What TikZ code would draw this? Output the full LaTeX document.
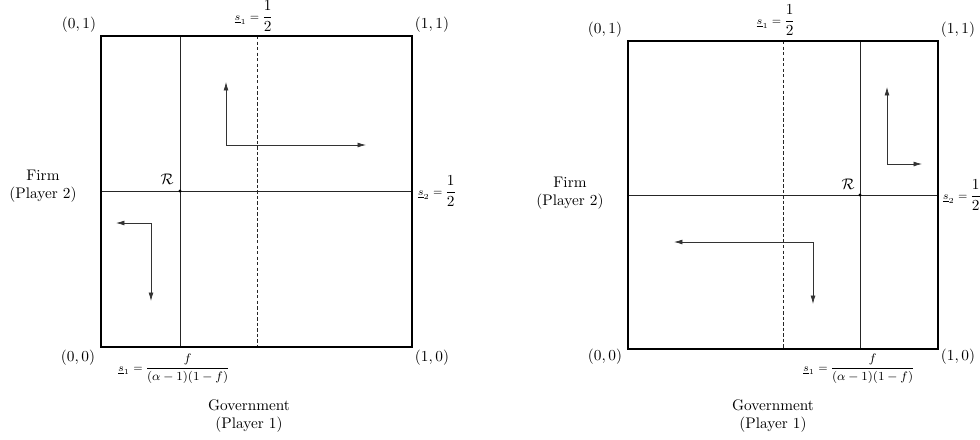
\documentclass[tikz,border=0pt]{standalone}
\usepackage{amsmath}
\usetikzlibrary{arrows.meta}
\begin{document}
\begin{tikzpicture}[x=0.653pt,y=-0.653pt,
  frame/.style={line width=1.4pt},
  solidline/.style={line width=0.5pt, black!85},
  dashline/.style={line width=0.5pt, black!85, dash pattern=on 2.2pt off 1.4pt},
  flow/.style={line width=0.5pt, black!80, -{Latex[length=5.5pt,width=3.2pt]}},
  lbl/.style={inner sep=1pt},
  dot/.style={circle, fill=black, inner sep=0pt, minimum size=2pt},
]
\useasboundingbox (0,0) rectangle (980,439);

% ---------------- Left panel ----------------
\coordinate (La) at (101,347);
\coordinate (Lb) at (412,36);
\coordinate (Lvt) at (180,36);
\coordinate (Lvb) at (180,347);
\coordinate (Ldt) at (257,36);
\coordinate (Ldb) at (257,347);
\coordinate (Lhl) at (101,191);
\coordinate (Lhr) at (412,191);
\draw[solidline] (Lvt) -- (Lvb);
\draw[dashline] (Ldt) -- (Ldb);
\draw[solidline] (Lhl) -- (Lhr);
\draw[frame] (La) rectangle (Lb);
\node[dot] (LR) at (180,191) {};
\node[lbl] (LRl) at (167,179) {$\mathcal{R}$};

\coordinate (Lc1) at (226,145);
\coordinate (Lu1) at (226,82);
\coordinate (Lr1) at (366,145);
\draw[flow] (Lc1) -- (Lu1);
\draw[flow] (Lc1) -- (Lr1);
\coordinate (Lc2) at (151,223);
\coordinate (Ll2) at (116,223);
\coordinate (Ld2) at (151,301);
\draw[flow] (Lc2) -- (Ll2);
\draw[flow] (Lc2) -- (Ld2);

\node[lbl] (L01) at (79,25) {$(0,1)$};
\node[lbl] (L11) at (432,25) {$(1,1)$};
\node[lbl] (L00) at (78,358) {$(0,0)$};
\node[lbl] (L10) at (432,358) {$(1,0)$};
\node[lbl, anchor=south] (Ls1) at (254,33) {{\scriptsize$\underline{s}_1 =$}\,$\dfrac{1}{2}$};
\node[lbl, anchor=west] (Ls2) at (416,191) {{\scriptsize$\underline{s}_2 =$}\,$\dfrac{1}{2}$};
\node[lbl] (Ls1b) at (174,369) {{\scriptsize$\underline{s}_1 =$}\,{\footnotesize$\dfrac{f}{(\alpha-1)(1-f)}$}};
\node[lbl, align=center] (LFirm) at (43,186) {Firm\\(Player 2)};
\node[lbl, align=center] (LGov) at (249,416) {Government\\(Player 1)};

% ---------------- Right panel ----------------
\coordinate (Ra) at (628,349);
\coordinate (Rb) at (938,41);
\coordinate (Rvt) at (860,41);
\coordinate (Rvb) at (860,349);
\coordinate (Rdt) at (783,41);
\coordinate (Rdb) at (783,349);
\coordinate (Rhl) at (628,195);
\coordinate (Rhr) at (938,195);
\draw[solidline] (Rvt) -- (Rvb);
\draw[dashline] (Rdt) -- (Rdb);
\draw[solidline] (Rhl) -- (Rhr);
\draw[frame] (Ra) rectangle (Rb);
\node[dot] (RR) at (860,195) {};
\node[lbl] (RRl) at (848,184) {$\mathcal{R}$};

\coordinate (Rc1) at (887,164);
\coordinate (Ru1) at (887,87);
\coordinate (Rr1) at (922,164);
\draw[flow] (Rc1) -- (Ru1);
\draw[flow] (Rc1) -- (Rr1);
\coordinate (Rc2) at (813,242);
\coordinate (Rl2) at (674,242);
\coordinate (Rd2) at (813,304);
\draw[flow] (Rc2) -- (Rl2);
\draw[flow] (Rc2) -- (Rd2);

\node[lbl] (R01) at (605,30) {$(0,1)$};
\node[lbl] (R11) at (958,30) {$(1,1)$};
\node[lbl] (R00) at (605,357) {$(0,0)$};
\node[lbl] (R10) at (958,357) {$(1,0)$};
\node[lbl, anchor=south] (Rs1) at (776,37) {{\scriptsize$\underline{s}_1 =$}\,$\dfrac{1}{2}$};
\node[lbl, anchor=west] (Rs2) at (941,195) {{\scriptsize$\underline{s}_2 =$}\,$\dfrac{1}{2}$};
\node[lbl] (Rs1b) at (859,369) {{\scriptsize$\underline{s}_1 =$}\,{\footnotesize$\dfrac{f}{(\alpha-1)(1-f)}$}};
\node[lbl, align=center] (RFirm) at (570,193) {Firm\\(Player 2)};
\node[lbl, align=center] (RGov) at (773,416) {Government\\(Player 1)};
\end{tikzpicture}
\end{document}
